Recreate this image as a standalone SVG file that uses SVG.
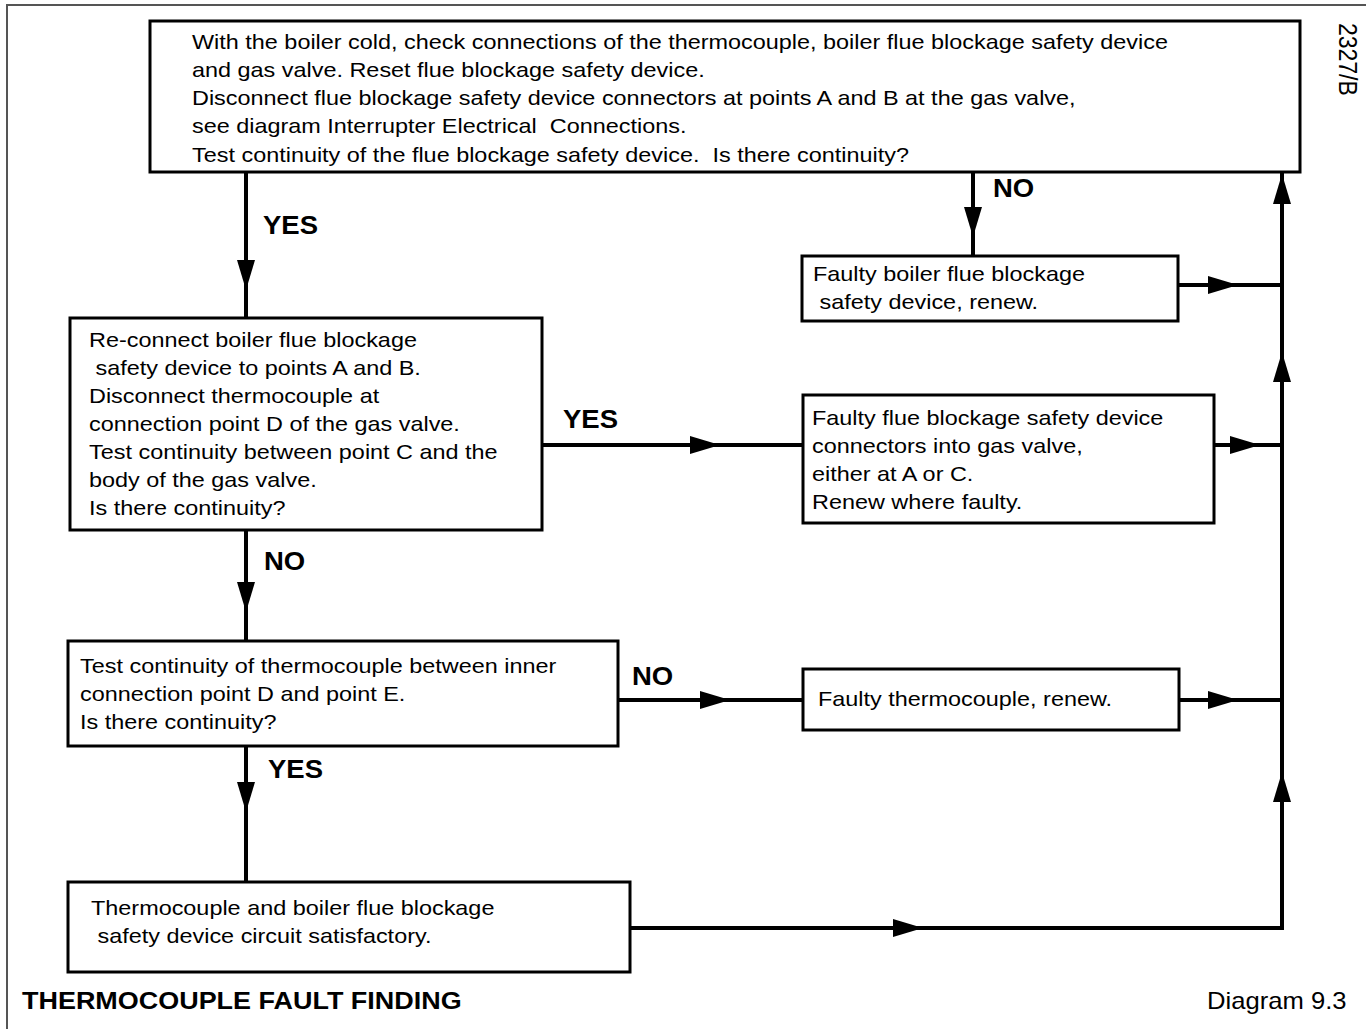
<svg xmlns="http://www.w3.org/2000/svg" width="1366" height="1029" viewBox="0 0 1366 1029">
<defs>
<style>
.box{fill:#fff;stroke:#000;stroke-width:3}
.ln{fill:none;stroke:#000;stroke-width:4}
.t{font-family:"Liberation Sans",Arial,sans-serif;font-size:21px;fill:#000}
.lb{font-family:"Liberation Sans",Arial,sans-serif;font-size:25px;font-weight:bold;fill:#000}
.frame{fill:none;stroke:#555;stroke-width:2}
</style>
<path id="ah" d="M0,0 L-30,-9 L-30,9 Z" fill="#000"/>
</defs>
<rect width="1366" height="1029" fill="#fff"/>
<path class="frame" d="M7,1029 V5 H1366"/>

<g id="connectors">
<path class="ln" d="M246,172 V318"/>
<path class="ln" d="M973,172 V256"/>
<path class="ln" d="M246,530 V641"/>
<path class="ln" d="M246,746 V882"/>
<path class="ln" d="M542,445 H803"/>
<path class="ln" d="M618,700 H803"/>
<path class="ln" d="M1178,285 H1282"/>
<path class="ln" d="M1213,445 H1282"/>
<path class="ln" d="M1179,700 H1282"/>
<path class="ln" d="M630,928 H1282 V172"/>
<use href="#ah" transform="translate(246,290) rotate(90)"/>
<use href="#ah" transform="translate(973,237) rotate(90)"/>
<use href="#ah" transform="translate(246,612) rotate(90)"/>
<use href="#ah" transform="translate(246,812) rotate(90)"/>
<use href="#ah" transform="translate(720,445)"/>
<use href="#ah" transform="translate(730,700)"/>
<use href="#ah" transform="translate(1238,285)"/>
<use href="#ah" transform="translate(1260,445)"/>
<use href="#ah" transform="translate(1238,700)"/>
<use href="#ah" transform="translate(923,928)"/>
<use href="#ah" transform="translate(1282,174) rotate(-90)"/>
<use href="#ah" transform="translate(1282,352) rotate(-90)"/>
<use href="#ah" transform="translate(1282,772) rotate(-90)"/>
<g transform="translate(263,234) scale(1.1,1)"><text class="lb">YES</text></g>
<g transform="translate(993,197) scale(1.1,1)"><text class="lb">NO</text></g>
<g transform="translate(563,428) scale(1.1,1)"><text class="lb">YES</text></g>
<g transform="translate(264,570) scale(1.1,1)"><text class="lb">NO</text></g>
<g transform="translate(632,685) scale(1.1,1)"><text class="lb">NO</text></g>
<g transform="translate(268,778) scale(1.1,1)"><text class="lb">YES</text></g>
</g>

<g id="n1">
<rect class="box" x="150" y="21" width="1150" height="151"/>
<g transform="translate(192,0) scale(1.115,1)">
<text class="t" x="0" y="49">With the boiler cold, check connections of the thermocouple, boiler flue blockage safety device</text>
<text class="t" x="0" y="77">and gas valve. Reset flue blockage safety device.</text>
<text class="t" x="0" y="105">Disconnect flue blockage safety device connectors at points A and B at the gas valve,</text>
<text class="t" x="0" y="133" xml:space="preserve">see diagram Interrupter Electrical  Connections.</text>
<text class="t" x="0" y="162" xml:space="preserve">Test continuity of the flue blockage safety device.  Is there continuity?</text>
</g>
</g>

<g id="n2">
<rect class="box" x="70" y="318" width="472" height="212"/>
<g transform="translate(89,0) scale(1.115,1)">
<text class="t" x="0" y="347">Re-connect boiler flue blockage</text>
<text class="t" x="0" y="375" xml:space="preserve"> safety device to points A and B.</text>
<text class="t" x="0" y="403">Disconnect thermocouple at</text>
<text class="t" x="0" y="431">connection point D of the gas valve.</text>
<text class="t" x="0" y="459">Test continuity between point C and the</text>
<text class="t" x="0" y="487">body of the gas valve.</text>
<text class="t" x="0" y="515">Is there continuity?</text>
</g>
</g>

<g id="n3">
<rect class="box" x="68" y="641" width="550" height="105"/>
<g transform="translate(80,0) scale(1.115,1)">
<text class="t" x="0" y="673">Test continuity of thermocouple between inner</text>
<text class="t" x="0" y="701">connection point D and point E.</text>
<text class="t" x="0" y="729">Is there continuity?</text>
</g>
</g>

<g id="n4">
<rect class="box" x="68" y="882" width="562" height="90"/>
<g transform="translate(91,0) scale(1.115,1)">
<text class="t" x="0" y="915">Thermocouple and boiler flue blockage</text>
<text class="t" x="0" y="943" xml:space="preserve"> safety device circuit satisfactory.</text>
</g>
</g>

<g id="n5">
<rect class="box" x="802" y="256" width="376" height="65"/>
<g transform="translate(813,0) scale(1.115,1)">
<text class="t" x="0" y="281">Faulty boiler flue blockage</text>
<text class="t" x="0" y="309" xml:space="preserve"> safety device, renew.</text>
</g>
</g>

<g id="n6">
<rect class="box" x="803" y="395" width="411" height="128"/>
<g transform="translate(812,0) scale(1.115,1)">
<text class="t" x="0" y="425">Faulty flue blockage safety device</text>
<text class="t" x="0" y="453">connectors into gas valve,</text>
<text class="t" x="0" y="481">either at A or C.</text>
<text class="t" x="0" y="509">Renew where faulty.</text>
</g>
</g>

<g id="n7">
<rect class="box" x="803" y="669" width="376" height="61"/>
<g transform="translate(818,0) scale(1.115,1)">
<text class="t" x="0" y="706">Faulty thermocouple, renew.</text>
</g>
</g>

<g id="labels">
<g transform="translate(22,1009) scale(1.1,1)"><text class="lb" style="font-size:24.5px">THERMOCOUPLE FAULT FINDING</text></g>
<g transform="translate(1207,1009) scale(1.115,1)"><text class="t" style="font-size:23px">Diagram 9.3</text></g>
<g transform="translate(1339,23) scale(1.1,1) rotate(90)"><text class="t" style="font-size:23px">2327/B</text></g>
</g>
</svg>
